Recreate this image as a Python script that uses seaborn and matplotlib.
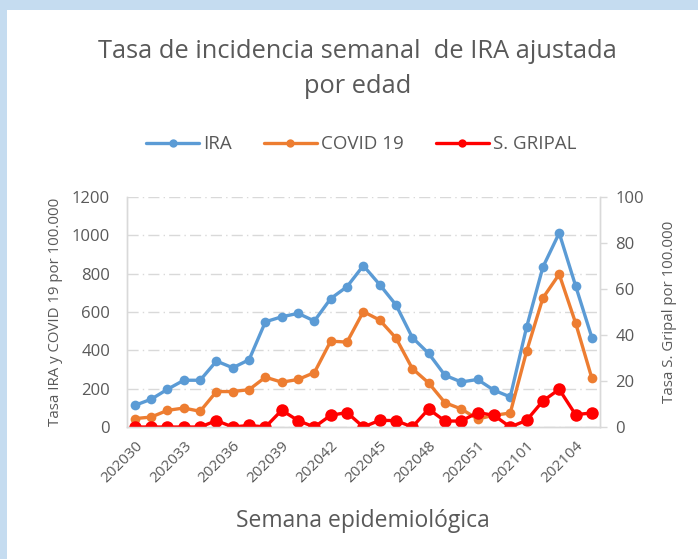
import numpy as np
import pandas as pd
import matplotlib
matplotlib.use("Agg")
import matplotlib.pyplot as plt
import seaborn as sns
from matplotlib.patches import Rectangle
from matplotlib.lines import Line2D

# weeks 202030..202053 then 202101..202105
weeks = ['202030', '202031', '202032', '202033', '202034', '202035', '202036',
         '202037', '202038', '202039', '202040', '202041', '202042', '202043',
         '202044', '202045', '202046', '202047', '202048', '202049', '202050',
         '202051', '202052', '202053', '202101', '202102', '202103', '202104',
         '202105']
ira = [113, 145, 197, 244, 244, 344, 309, 351, 549, 575, 593, 553, 670, 732,
       842, 743, 637, 467, 384, 270, 235, 248, 192, 157, 520, 834, 1012, 738, 467]
covid = [44, 52, 87, 99, 82, 185, 185, 195, 260, 234, 248, 284, 448, 443,
         602, 558, 464, 305, 230, 127, 94, 42, 61, 73, 394, 673, 797, 544, 255]
gripal = [0, 0, 0, 0, 0, 2.8, 0, 0.7, 0, 7.3, 2.8, 0, 5.1, 6.3,
          0, 2.9, 2.8, 0, 7.8, 2.6, 2.6, 6.3, 5.1, 0, 2.9, 11.3, 16.4, 5.4, 6.1]

df = pd.DataFrame({'pos': np.arange(len(weeks)), 'semana': weeks,
                   'IRA': ira, 'COVID 19': covid, 'S. GRIPAL': gripal})

sns.set_style('white')
plt.rcParams['font.family'] = ['Open Sans', 'DejaVu Sans']
txt = '#595959'
grid_c = '#D9D9D9'
c_ira, c_cov, c_gri = '#5B9BD5', '#ED7D31', '#FF0000'

fig = plt.figure(figsize=(6.98, 5.59), dpi=100)
fig.patch.set_facecolor('#C5DCF0')
fig.patches.append(Rectangle((7/698, 0), 1, 1 - 10/559, transform=fig.transFigure,
                             facecolor='white', edgecolor='none', zorder=-1))

ax = fig.add_axes([0.1815, 0.2361, 0.6781, 0.4115])
ax.set_facecolor('none')
ax2 = ax.twinx()

sns.lineplot(data=df, x='pos', y='IRA', ax=ax, color=c_ira, lw=2.4,
             marker='o', markersize=7, markeredgewidth=0)
sns.lineplot(data=df, x='pos', y='COVID 19', ax=ax, color=c_cov, lw=2.4,
             marker='o', markersize=7, markeredgewidth=0)
sns.lineplot(data=df, x='pos', y='S. GRIPAL', ax=ax2, color=c_gri, lw=2.4,
             marker='o', markersize=9, markeredgewidth=0)

ax.set_xlim(-0.5, len(weeks) - 0.5)
ax.set_ylim(0, 1200)
ax2.set_ylim(0, 100)
ax.set_yticks(range(0, 1201, 200))
ax2.set_yticks(range(0, 101, 20))
ax.grid(axis='y', color=grid_c, lw=1, linestyle=(0, (8, 3, 1, 3)))
ax.set_axisbelow(True)

ax.set_xticks(np.arange(0, len(weeks), 3))
ax.set_xticklabels(weeks[::3], rotation=45, ha='right', rotation_mode='anchor')
ax.set_xticks(np.arange(-0.5, len(weeks), 1), minor=True)
ax.tick_params(axis='x', which='major', length=0, pad=8, labelsize=11, labelcolor=txt)
ax.tick_params(axis='x', which='minor', length=5, color=grid_c, width=1)
ax.tick_params(axis='y', length=0, labelsize=12, labelcolor=txt, pad=12)
ax2.tick_params(axis='y', length=5, color=grid_c, width=1, labelsize=12,
                labelcolor=txt, pad=6)

for a in (ax, ax2):
    for s in a.spines.values():
        s.set_color(grid_c)
        s.set_linewidth(1)
    a.spines['top'].set_visible(False)

ax.set_xlabel('Semana epidemiológica', fontsize=16.5, color=txt, labelpad=17)
ax.set_ylabel('Tasa IRA y COVID 19 por 100.000', fontsize=10.8, color=txt, labelpad=6)
ax2.set_ylabel('Tasa S. Gripal por 100.000', fontsize=10.8, color=txt, labelpad=13)

fig.text(0.512, 0.93, 'Tasa de incidencia semanal  de IRA ajustada\npor edad',
         ha='center', va='top', fontsize=18.3, color=txt, linespacing=1.5)

handles = [Line2D([], [], color=c, lw=2.4, marker='o', markersize=6, markeredgewidth=0)
           for c in (c_ira, c_cov, c_gri)]
fig.legend(handles, ['IRA', 'COVID 19', 'S. GRIPAL'], loc='center',
           bbox_to_anchor=(0.518, 0.742), ncol=3, frameon=False, fontsize=13.5,
           labelcolor=txt, handlelength=2.8, handletextpad=0.25, columnspacing=1.7)

fig.savefig('out.png', dpi=100)
